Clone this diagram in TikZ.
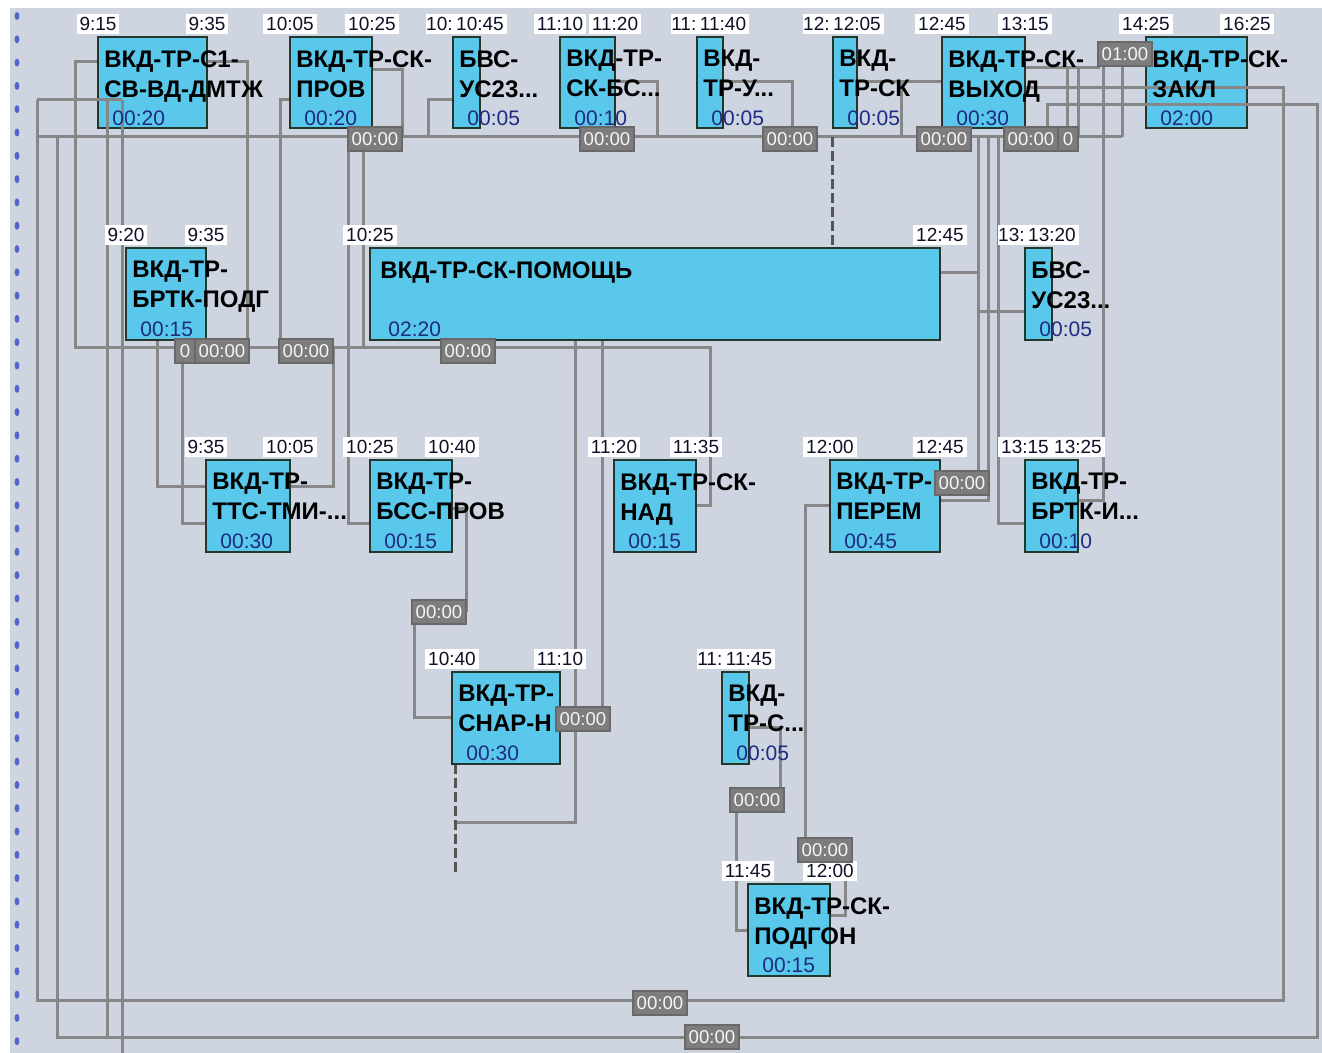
\documentclass[tikz,border=0pt]{standalone}
\usepackage{fontspec}
\setmainfont{Liberation Sans}
\definecolor{bgc}{RGB}{206,213,225}
\definecolor{boxfill}{RGB}{90,200,235}
\definecolor{boxborder}{RGB}{35,55,45}
\definecolor{lnc}{RGB}{135,135,135}
\definecolor{dlnc}{RGB}{85,85,85}
\definecolor{lblfill}{RGB}{125,125,125}
\definecolor{lblborder}{RGB}{105,105,105}
\definecolor{lbltext}{RGB}{245,245,245}
\definecolor{durc}{RGB}{30,43,130}
\definecolor{dotc}{RGB}{85,100,200}
\definecolor{timec}{RGB}{16,16,40}
\tikzset{
 taskbox/.style={draw=boxborder, line width=1pt, fill=boxfill, inner sep=0pt, outer sep=0pt},
 tasktext/.style={font=\bfseries\fontsize{12}{15}\selectfont, text=black, inner sep=0pt, align=left},
 durtext/.style={font=\fontsize{10.5}{12}\selectfont, text=durc, inner sep=0pt},
 timelbl/.style={fill=white, font=\fontsize{9.5}{11}\selectfont, text=timec, inner sep=1.5pt, outer sep=0pt},
 zlbl/.style={fill=lblfill, draw=lblborder, line width=1pt, font=\fontsize{9.3}{11}\selectfont, text=lbltext, minimum width=27pt, minimum height=12pt, inner sep=0pt, outer sep=0pt},
 ln/.style={draw=lnc, line width=1.5pt},
 dln/.style={draw=dlnc, line width=1.5pt, dash pattern=on 5pt off 2pt},
}
\newcommand\tbox[5]{\node[taskbox, anchor=north west, minimum width={(#4-#2)*0.5pt}, minimum height={(#5-#3)*0.5pt}] (#1) at (#2,#3) {};}
\newcommand\ttxt[4]{\node[tasktext, anchor=north west] at (#1+6,#2+13) {#3};
 \node[durtext, anchor=north west] at (#1+14,#2+73) {#4};}
\newcommand\tlab[3]{\node[timelbl] at (#1,#2) {#3};}
% time pair where the left label is mostly hidden: #1 name, #2 x, #3 y, #4 fragment, #5 right text
\newcommand\tpair[5]{\node[timelbl] (#1) at (#2,#3) {#5};
 \node[timelbl, anchor=east, inner xsep=0.3pt] at (#1.west) {#4};}
\begin{document}
\begin{tikzpicture}[x=0.5pt,y=-0.5pt]
\useasboundingbox (0,0) rectangle (1322,1053);
\fill[white] (0,0) rectangle (1322,1053);
\fill[bgc] (10,8) rectangle (1322,1053);
\foreach \i in {0,...,44} \fill[dotc] (17,16+23.3*\i) ellipse [x radius=1.2pt, y radius=2pt];

% ---- connectors under boxes
\draw[ln] (37,137) -- (1122,137);
\draw[ln] (37,100) -- (37,1000) -- (1283,1000) -- (1283,88) -- (1025,88);
\draw[ln] (57,137) -- (57,1037) -- (1317,1037) -- (1317,105) -- (1047,105) -- (1047,137);
\draw[ln] (98,62) -- (75,62) -- (75,348) -- (247,348);
\draw[ln] (207,62) -- (247,62) -- (247,348) -- (306,348);
\draw[ln] (290,100) -- (280,100) -- (280,348);
\draw[ln] (306,348) -- (710,348) -- (710,505) -- (696,505);
\draw[ln] (333,348) -- (333,486) -- (290,486);
\draw[ln] (372,70) -- (402,70) -- (402,137);
\draw[ln] (348,137) -- (348,523) -- (370,523);
\draw[ln] (363,137) -- (363,348);
\draw[ln] (157,340) -- (157,486) -- (206,486);
\draw[ln] (182,348) -- (182,523) -- (206,523);
\draw[ln] (453,100) -- (428,100) -- (428,137);
\draw[ln] (615,82) -- (657,82) -- (657,137);
\draw[ln] (723,82) -- (792,82) -- (792,137);
\draw[dln] (832,137) -- (832,248);
\draw[ln] (857,82) -- (942,82);
\draw[ln] (901,82) -- (901,137);
\draw[ln] (978,137) -- (978,483);
\draw[ln] (940,273) -- (978,273);
\draw[ln] (978,312) -- (1025,312);
\draw[ln] (988,137) -- (988,500) -- (940,500);
\draw[ln] (998,137) -- (998,523) -- (1025,523);
\draw[ln] (1025,68) -- (1100,68);
\draw[ln] (1067,68) -- (1067,137);
\draw[ln] (1078,68) -- (1078,137);
\draw[ln] (1103,60) -- (1103,500) -- (1078,500);
\draw[ln] (1122,60) -- (1122,137);
\draw[ln] (575,340) -- (575,822) -- (455,822);
\draw[ln] (602,340) -- (602,719);
\draw[ln] (452,508) -- (466,508) -- (466,612);
\draw[ln] (414,612) -- (414,717) -- (452,717);
\draw[dln] (455,764) -- (455,875);
\draw[ln] (749,727) -- (780,727) -- (780,800);
\draw[ln] (736,800) -- (736,930) -- (748,930);
\draw[ln] (830,505) -- (805,505) -- (805,850);
\draw[ln] (845,850) -- (845,915) -- (830,915);

% ---- boxes
\tbox{b1}{98}{37}{207}{128}
\tbox{b2}{290}{37}{372}{128}
\tbox{b3}{453}{37}{480}{128}
\tbox{b4}{560}{37}{615}{128}
\tbox{b5}{697}{37}{723}{128}
\tbox{b6}{833}{37}{857}{128}
\tbox{b7}{942}{37}{1025}{128}
\tbox{b8}{1146}{37}{1247}{128}
\tbox{b9}{126}{248}{206}{340}
\tbox{b10}{370}{248}{940}{340}
\tbox{b11}{1025}{248}{1052}{340}
\tbox{b12}{206}{460}{290}{552}
\tbox{b13}{370}{460}{452}{552}
\tbox{b14}{614}{460}{696}{552}
\tbox{b15}{830}{460}{940}{552}
\tbox{b16}{1025}{460}{1078}{552}
\tbox{b17}{452}{672}{560}{764}
\tbox{b18}{722}{672}{749}{764}
\tbox{b19}{748}{884}{830}{976}

% ---- connectors over boxes
\draw[ln] (37,100) -- (122,100);
\draw[ln] (107,100) -- (107,1037);
\draw[ln] (122,100) -- (122,1053);
\draw[ln] (1140,88) -- (1250,88);
\draw[ln] (1140,105) -- (1250,105);

% ---- task texts
\ttxt{98}{37}{ВКД-ТР-С1-\\СВ-ВД-ДМТЖ}{00:20}
\ttxt{290}{37}{ВКД-ТР-СК-\\ПРОВ}{00:20}
\ttxt{453}{37}{БВС-\\УС23...}{00:05}
\ttxt{560}{37}{ВКД-ТР-\\СК-БС...}{00:10}
\ttxt{697}{37}{ВКД-\\ТР-У...}{00:05}
\ttxt{833}{37}{ВКД-\\ТР-СК}{00:05}
\ttxt{942}{37}{ВКД-ТР-СК-\\ВЫХОД}{00:30}
\ttxt{1146}{37}{ВКД-ТР-СК-\\ЗАКЛ}{02:00}
\ttxt{126}{248}{ВКД-ТР-\\БРТК-ПОДГ}{00:15}
\ttxt{374}{248}{ВКД-ТР-СК-ПОМОЩЬ}{02:20}
\ttxt{1025}{248}{БВС-\\УС23...}{00:05}
\ttxt{206}{460}{ВКД-ТР-\\ТТС-ТМИ-...}{00:30}
\ttxt{370}{460}{ВКД-ТР-\\БСС-ПРОВ}{00:15}
\ttxt{614}{460}{ВКД-ТР-СК-\\НАД}{00:15}
\ttxt{830}{460}{ВКД-ТР-\\ПЕРЕМ}{00:45}
\ttxt{1025}{460}{ВКД-ТР-\\БРТК-И...}{00:10}
\ttxt{452}{672}{ВКД-ТР-\\СНАР-Н}{00:30}
\ttxt{722}{672}{ВКД-\\ТР-С...}{00:05}
\ttxt{748}{884}{ВКД-ТР-СК-\\ПОДГОН}{00:15}

% ---- time labels
\tlab{98}{24}{9:15}\tlab{207}{24}{9:35}
\tlab{290}{24}{10:05}\tlab{372}{24}{10:25}
\tpair{t3}{480}{24}{10:}{10:45}
\tlab{560}{24}{11:10}\tlab{615}{24}{11:20}
\tpair{t5}{723}{24}{11:}{11:40}
\tpair{t6}{857}{24}{12:}{12:05}
\tlab{942}{24}{12:45}\tlab{1025}{24}{13:15}
\tlab{1146}{24}{14:25}\tlab{1247}{24}{16:25}
\tlab{126}{235}{9:20}\tlab{206}{235}{9:35}
\tlab{370}{235}{10:25}\tlab{940}{235}{12:45}
\tpair{t11}{1052}{235}{13:}{13:20}
\tlab{206}{447}{9:35}\tlab{290}{447}{10:05}
\tlab{370}{447}{10:25}\tlab{452}{447}{10:40}
\tlab{614}{447}{11:20}\tlab{696}{447}{11:35}
\tlab{830}{447}{12:00}\tlab{940}{447}{12:45}
\tlab{1025}{447}{13:15}\tlab{1078}{447}{13:25}
\tlab{452}{659}{10:40}\tlab{560}{659}{11:10}
\tpair{t18}{749}{659}{11:}{11:45}
\tlab{748}{871}{11:45}\tlab{830}{871}{12:00}

% ---- lag labels
\node[zlbl] (lA) at (222,351) {00:00};
\node[zlbl, minimum width=10pt, anchor=east] (lAx) at (lA.west) {0};
\node[zlbl] (lB) at (306,351) {00:00};
\node[zlbl] (lC) at (468,351) {00:00};
\node[zlbl] (lD) at (375,139) {00:00};
\node[zlbl] (lJ) at (607,139) {00:00};
\node[zlbl] (lK) at (790,139) {00:00};
\node[zlbl] (lF) at (944,139) {00:00};
\node[zlbl] (lG) at (1031,139) {00:00};
\node[zlbl, minimum width=10pt, anchor=west] (lGx) at (lG.east) {0};
\node[zlbl] (lN) at (1125,54) {01:00};
\node[zlbl] (lM) at (962,483) {00:00};
\node[zlbl] (lO) at (439,612) {00:00};
\node[zlbl] (lE) at (583,719) {00:00};
\node[zlbl] (lP) at (757,800) {00:00};
\node[zlbl] (lQ) at (825,850) {00:00};
\node[zlbl] (lH) at (660,1003) {00:00};
\node[zlbl] (lI) at (712,1037) {00:00};
\end{tikzpicture}
\end{document}
